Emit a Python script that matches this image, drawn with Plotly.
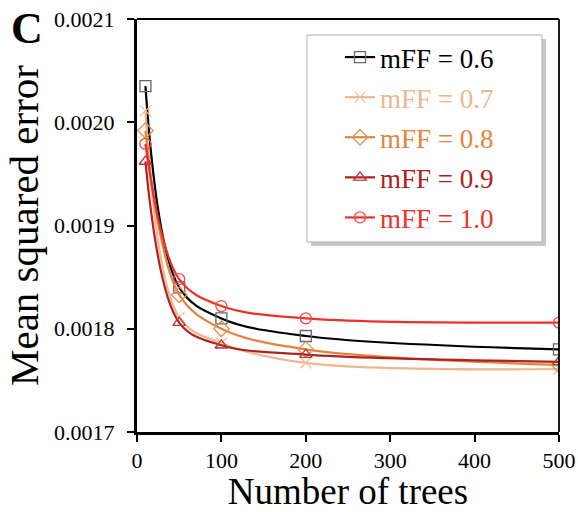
import plotly.graph_objects as go

trees = [10, 50, 100, 200, 500]
mff06 = [0.002035, 0.001840, 0.001810, 0.001793, 0.001780]
mff07 = [0.002011, 0.001811, 0.001786, 0.001767, 0.001761]
mff08 = [0.001992, 0.001833, 0.001800, 0.001780, 0.001765]
mff09 = [0.001962, 0.001806, 0.001784, 0.001775, 0.001768]
mff10 = [0.001979, 0.001848, 0.001822, 0.001810, 0.001806]
labels = ["mFF = 0.6", "mFF = 0.7", "mFF = 0.8", "mFF = 0.9", "mFF = 1.0"]
series = [mff06, mff07, mff08, mff09, mff10]
colors = ["#000000", "#EFB58C", "#E2843F", "#AD2220", "#EC3129"]
mcolors = ["#666666", "#F2BE9A", "#E4904F", "#B53A36", "#EE4A40"]
symbols = ["square-open", "x-thin-open", "diamond-open", "triangle-up-open", "circle-open"]
msizes = [11, 11, 12, 11, 11]

FONT = "Liberation Serif, Times New Roman, serif"
fig = go.Figure()
for i, (lab, ys) in enumerate(zip(labels, series)):
    fig.add_trace(go.Scatter(
        x=trees, y=ys, mode="lines+markers",
        name=f"<span style='color:{colors[i]}'>{lab}</span>",
        line=dict(color=colors[i], width=2.2, shape="spline", smoothing=1.0),
        marker=dict(symbol=symbols[i], size=msizes[i], color=mcolors[i],
                    line=dict(color=mcolors[i], width=1.3)),
        legendgroup=str(i),
    ))

L, R, T, B = 137, 19, 19, 80
W, H = 578, 512
pw, ph = W - L - R, H - T - B

def px_x(px):
    return (px - L) / pw

def px_y(py):
    return (H - B - py) / ph

shapes = [
    dict(type="line", xref="paper", yref="paper", x0=0, x1=1, y0=1, y1=1,
         line=dict(color="black", width=1.8)),
    dict(type="line", xref="paper", yref="paper", x0=1, x1=1, y0=0, y1=1,
         line=dict(color="black", width=1.8)),
    dict(type="rect", xref="paper", yref="paper",
         x0=px_x(311), x1=px_x(546), y0=px_y(246), y1=px_y(39),
         fillcolor="#C8C8C8", line=dict(width=0)),
    dict(type="rect", xref="paper", yref="paper",
         x0=px_x(307), x1=px_x(542), y0=px_y(242), y1=px_y(35),
         fillcolor="white", line=dict(color="#B0B0B0", width=1)),
]

fig.update_layout(
    width=W, height=H,
    margin=dict(l=L, r=R, t=T, b=B, autoexpand=False),
    paper_bgcolor="white", plot_bgcolor="white",
    font=dict(family=FONT, color="black", size=22),
    shapes=shapes,
    showlegend=True,
    legend=dict(x=px_x(340), y=px_y(33), xanchor="left", yanchor="top",
                bgcolor="rgba(0,0,0,0)", borderwidth=0,
                font=dict(family=FONT, size=27), tracegroupgap=2,
                itemwidth=30),
    xaxis=dict(range=[0, 500], dtick=100, tick0=0, showgrid=False, zeroline=False,
               automargin=False,
               showline=True, linecolor="black", linewidth=3,
               ticks="outside", ticklen=7, tickwidth=2, tickcolor="black",
               tickfont=dict(family=FONT, size=22),
               title=dict(text="Number of trees", font=dict(family=FONT, size=37), standoff=4)),
    yaxis=dict(range=[0.0017, 0.0021], dtick=0.0001, tick0=0.0017, tickformat=".4f",
               showgrid=False, zeroline=False, automargin=False,
               showline=True, linecolor="black", linewidth=3,
               ticks="outside", ticklen=7, tickwidth=2, tickcolor="black",
               ticklabelstandoff=8,
               tickfont=dict(family=FONT, size=22),
               title=dict(text="Mean squared error", font=dict(family=FONT, size=41), standoff=3)),
    annotations=[dict(text="<b>C</b>", xref="paper", yref="paper",
                      x=px_x(27), y=px_y(28), xanchor="center", yanchor="middle",
                      showarrow=False, font=dict(family=FONT, size=44, color="black"))],
)

fig.write_html("out.html")
